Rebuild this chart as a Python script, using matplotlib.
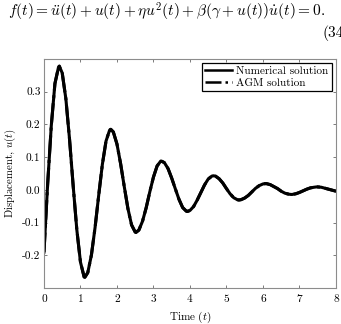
#!/usr/bin/env python3
# damped oscillation: numerical vs AGM solution
import matplotlib
matplotlib.use("Agg")
import matplotlib.pyplot as plt

# values (t, u(t))
t_vals = [0.0, 0.1, 0.2, 0.3, 0.4, 0.42, 0.5, 0.6, 0.7, 0.8, 0.9, 1.0, 1.1, 1.12,
          1.2, 1.3, 1.4, 1.5, 1.6, 1.7, 1.8, 1.83, 1.9, 2.0, 2.1, 2.2, 2.3, 2.4,
          2.5, 2.52, 2.6, 2.7, 2.8, 2.9, 3.0, 3.1, 3.2, 3.22, 3.3, 3.4, 3.5, 3.6,
          3.7, 3.8, 3.9, 3.93, 4.0, 4.1, 4.2, 4.3, 4.4, 4.5, 4.6, 4.64, 4.7, 4.8,
          4.9, 5.0, 5.1, 5.2, 5.3, 5.34, 5.4, 5.5, 5.6, 5.7, 5.8, 5.9, 6.0, 6.06,
          6.1, 6.2, 6.3, 6.4, 6.5, 6.6, 6.7, 6.77, 6.8, 6.9, 7.0, 7.1, 7.2, 7.3,
          7.4, 7.47, 7.5, 7.6, 7.7, 7.8, 7.9, 8.0]
u_numerical = [-0.190, 0.017, 0.196, 0.325, 0.376, 0.378, 0.357, 0.278, 0.155, 0.012,
               -0.122, -0.221, -0.266, -0.267,
               -0.253, -0.199, -0.115, -0.016, 0.078, 0.149, 0.183, 0.185,
               0.177, 0.140, 0.080, 0.010, -0.057, -0.107, -0.129, -0.130,
               -0.123, -0.096, -0.055, -0.006, 0.039, 0.073, 0.088, 0.088,
               0.083, 0.065, 0.036, 0.003, -0.029, -0.054, -0.065, -0.066,
               -0.063, -0.051, -0.031, -0.008, 0.015, 0.033, 0.042, 0.043,
               0.042, 0.034, 0.021, 0.004, -0.012, -0.024, -0.030, -0.031,
               -0.030, -0.025, -0.017, -0.006, 0.005, 0.013, 0.018, 0.019,
               0.019, 0.016, 0.010, 0.004, -0.004, -0.010, -0.013, -0.014,
               -0.014, -0.012, -0.008, -0.003, 0.002, 0.006, 0.008, 0.009,
               0.009, 0.008, 0.005, 0.002, -0.001, -0.004]
# the AGM curve sits right on top of the numerical one
u_agm = list(u_numerical)

xticks = [0, 1, 2, 3, 4, 5, 6, 7, 8]
yticks = [-0.2, -0.1, 0.0, 0.1, 0.2, 0.3]
ytick_lbls = ['-0.2', '-0.1', '0.0', '0.1', '0.2', '0.3']

plt.rcParams['font.family'] = 'serif'
plt.rcParams['font.serif'] = ['cmr10', 'DejaVu Serif']
plt.rcParams['mathtext.fontset'] = 'cm'
plt.rcParams['axes.unicode_minus'] = False

fig = plt.figure(figsize=(3.41, 3.24), dpi=100)
ax = fig.add_axes([0.129, 0.111, 0.856, 0.707])

ax.plot(t_vals, u_numerical, color='black', lw=2.2, label='Numerical solution')
ax.plot(t_vals, u_agm, color='black', lw=2.2, ls='-.', label='AGM solution')

ax.set_xlim(0, 8)
ax.set_ylim(-0.3, 0.4)
ax.set_xticks(xticks)
ax.set_xticklabels([str(v) for v in xticks])
ax.set_yticks(yticks)
ax.set_yticklabels(ytick_lbls)
ax.tick_params(direction='in', top=True, right=True, length=2, width=0.6,
               labelsize=8.2, color='0.4')
ax.tick_params(axis='x', pad=4.5)
ax.tick_params(axis='y', pad=2.5)
for sp in ax.spines.values():
    sp.set_color('0.55')
    sp.set_linewidth(0.8)

ax.set_xlabel('Time $(t)$', fontsize=8, labelpad=4)
ax.set_ylabel('Displacement, $u(t)$', fontsize=7.8, labelpad=3)

leg = ax.legend(loc='upper right', fontsize=8, fancybox=False, framealpha=1,
                edgecolor='black', handlelength=2.4, borderpad=0.3,
                labelspacing=0.2, handletextpad=0.4, borderaxespad=0.35)
leg.get_frame().set_linewidth(0.9)
for ln in leg.get_lines():
    ln.set_linewidth(1.8)

fig.text(0.488, 0.962, r'$f(t)=\ddot{u}(t)+u(t)+\eta u^2(t)+\beta(\gamma+u(t))\dot{u}(t)=0.$',
         ha='center', va='center', fontsize=11.1)
fig.text(0.945, 0.898, '(34)', ha='left', va='center', fontsize=11.1)

fig.savefig('out.png', dpi=100)
